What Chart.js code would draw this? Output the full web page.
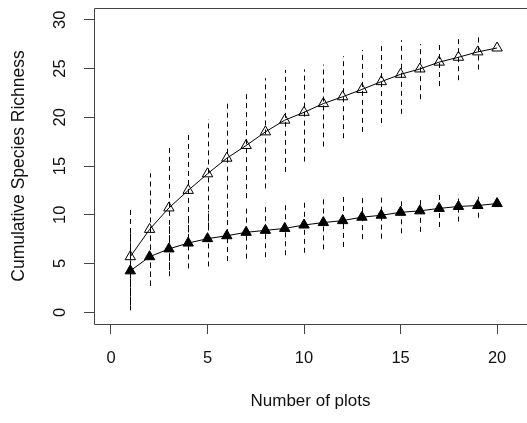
<!DOCTYPE html>
<html>
<head>
<meta charset="utf-8">
<script src="https://cdn.jsdelivr.net/npm/chart.js@4.4.1/dist/chart.umd.min.js"></script>
<style>
  html, body { margin: 0; padding: 0; overflow: hidden; background: #fff; }
  #wrap { width: 527px; height: 423px; }
</style>
</head>
<body>
<div id="wrap"><canvas id="chart"></canvas></div>
<script>
// number of plots sampled
const plots = [1, 2, 3, 4, 5, 6, 7, 8, 9, 10, 11, 12, 13, 14, 15, 16, 17, 18, 19, 20];

// open triangles (upper curve): mean and the ends of the dashed bars
const openMean = [5.7, 8.5, 10.7, 12.5, 14.2, 15.8, 17.1, 18.5, 19.7, 20.5, 21.4, 22.1, 22.85, 23.65, 24.4, 24.95, 25.65, 26.15, 26.7, 27.1];
const openLo = [0.75, 2.75, 4.35, 6.6, 8.7, 9.8, 11.7, 12.7, 14.4, 15.45, 17.0, 17.85, 18.5, 19.4, 20.35, 21.85, 23.2, 23.8, 24.9, 27.1];
const openHi = [10.65, 14.25, 17.15, 18.4, 19.8, 21.8, 22.5, 24.0, 24.85, 24.9, 25.4, 26.25, 26.9, 27.5, 27.9, 27.5, 27.7, 28.1, 28.2, 27.1];

// filled triangles (lower curve)
const filledMean = [4.25, 5.7, 6.5, 7.1, 7.55, 7.85, 8.2, 8.4, 8.6, 8.95, 9.2, 9.4, 9.75, 9.95, 10.25, 10.4, 10.65, 10.85, 10.95, 11.15];
const filledLo = [0.2, 2.7, 3.7, 4.5, 4.7, 5.25, 5.5, 5.65, 5.85, 6.1, 6.45, 6.7, 7.5, 7.55, 8.1, 8.25, 8.75, 9.3, 9.7, 11.15];
const filledHi = [8.3, 8.7, 9.3, 9.7, 10.4, 10.45, 10.9, 11.2, 11.3, 11.6, 11.85, 11.85, 12.1, 12.15, 11.6, 11.5, 12.1, 12.1, 11.85, 11.15];

const xTicks = [0, 5, 10, 15, 20];
const yTicks = [0, 5, 10, 15, 20, 25, 30];

const font = { family: "'Liberation Sans', Arial, sans-serif", size: 16.5 };
const textColor = '#111';
const axisColor = '#444';

const toPoints = (ys) => plots.map((p, i) => ({ x: p, y: ys[i] }));

// dashed vertical bars, drawn under the markers
const errorBars = {
  id: 'errorBars',
  beforeDatasetsDraw(chart) {
    const { ctx, scales: { x, y } } = chart;
    ctx.save();
    ctx.strokeStyle = '#000';
    ctx.lineWidth = 1;
    ctx.setLineDash([5, 4]);
    [[openLo, openHi], [filledLo, filledHi]].forEach(([lo, hi]) => {
      plots.forEach((p, i) => {
        if (hi[i] - lo[i] <= 0) return;
        const px = Math.round(x.getPixelForValue(p)) + 0.5;
        ctx.beginPath();
        ctx.moveTo(px, y.getPixelForValue(lo[i]));
        ctx.lineTo(px, y.getPixelForValue(hi[i]));
        ctx.stroke();
      });
    });
    ctx.restore();
  }
};

// box round the plot region; its right side lies past the picture's edge
const plotBox = {
  id: 'plotBox',
  afterDraw(chart) {
    const { ctx, chartArea: a } = chart;
    const l = Math.round(a.left) + 0.5, t = Math.round(a.top) + 0.5, b = Math.round(a.bottom) + 0.5;
    ctx.save();
    ctx.strokeStyle = axisColor;
    ctx.lineWidth = 1;
    ctx.beginPath();
    ctx.moveTo(chart.width, t);
    ctx.lineTo(l, t);
    ctx.lineTo(l, b);
    ctx.lineTo(chart.width, b);
    ctx.stroke();
    ctx.restore();
  }
};

const noPad = (s) => { s.paddingTop = 0; s.paddingBottom = 0; s.paddingLeft = 0; s.paddingRight = 0; };

new Chart(document.getElementById('chart'), {
  type: 'line',
  data: {
    datasets: [
      {
        data: toPoints(openMean),
        borderColor: '#000',
        borderWidth: 1,
        pointStyle: 'triangle',
        pointRadius: 6,
        pointBorderWidth: 1,
        pointBorderColor: '#000',
        pointBackgroundColor: 'rgba(0,0,0,0)',
        tension: 0
      },
      {
        data: toPoints(filledMean),
        borderColor: '#000',
        borderWidth: 1,
        pointStyle: 'triangle',
        pointRadius: 6,
        pointBorderWidth: 1,
        pointBorderColor: '#000',
        pointBackgroundColor: '#000',
        tension: 0
      }
    ]
  },
  options: {
    responsive: true,
    maintainAspectRatio: false,
    animation: false,
    layout: { autoPadding: false, padding: { top: 8, left: 0, right: 0, bottom: 0 } },
    plugins: {
      legend: { display: false },
      tooltip: { enabled: false }
    },
    scales: {
      x: {
        type: 'linear',
        min: -0.88,
        max: 21.55,
        afterBuildTicks: (s) => { s.ticks = xTicks.map(v => ({ value: v })); },
        afterFit: (s) => { s.height = 99; noPad(s); },
        border: { display: false },
        grid: { drawOnChartArea: false, drawTicks: true, tickLength: 10, color: axisColor },
        ticks: { font, color: textColor, padding: 15, maxRotation: 0 },
        title: { display: true, text: 'Number of plots', font: { ...font, size: 17 }, color: textColor, padding: { top: 0, bottom: 11 } }
      },
      y: {
        type: 'linear',
        min: -1.2,
        max: 31.2,
        afterBuildTicks: (s) => { s.ticks = yTicks.map(v => ({ value: v })); },
        afterFit: (s) => { s.width = 94; noPad(s); },
        border: { display: false },
        grid: { drawOnChartArea: false, drawTicks: true, tickLength: 10, color: axisColor },
        ticks: { font, color: textColor, padding: 14, minRotation: 90, maxRotation: 90, crossAlign: 'center' },
        title: { display: true, text: 'Cumulative Species Richness', font: { ...font, size: 17.5 }, color: textColor, padding: { top: 9, bottom: 0 } }
      }
    }
  },
  plugins: [errorBars, plotBox]
});
</script>
</body>
</html>
